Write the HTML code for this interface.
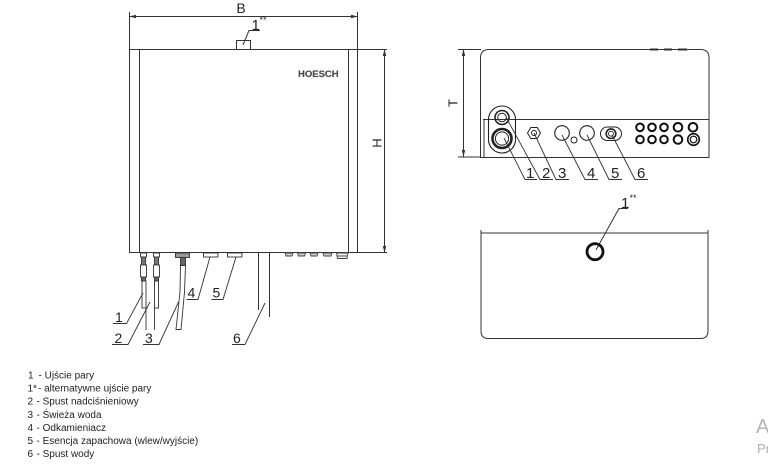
<!DOCTYPE html>
<html><head><meta charset="utf-8">
<style>
html,body{margin:0;padding:0;background:#fff;}
svg{display:block;}
text{font-family:"Liberation Sans",Arial,sans-serif;}
</style></head>
<body>
<svg width="768" height="466" viewBox="0 0 768 466" xmlns="http://www.w3.org/2000/svg">
<rect width="768" height="466" fill="#fff"/>

<!-- ========== FRONT VIEW ========== -->
<g stroke="#333" stroke-width="1" fill="none">
  <line x1="129.5" y1="12" x2="129.5" y2="253"/>
  <line x1="357.5" y1="12" x2="357.5" y2="253"/>
  <line x1="139.5" y1="49" x2="139.5" y2="253"/>
  <line x1="348.5" y1="49" x2="348.5" y2="253"/>
  <line x1="129" y1="49.5" x2="387" y2="49.5"/>
  <line x1="129" y1="252.5" x2="387" y2="252.5"/>
  <line x1="129" y1="16.5" x2="358" y2="16.5"/>
  <line x1="384.5" y1="49" x2="384.5" y2="253"/>
  <rect x="236.5" y="40.5" width="14" height="9"/>
  <polyline points="243,45 249,30.5 260,30.5"/>
</g>
<g fill="#333">
  <polygon points="129,16.5 136,14.8 136,18.2"/>
  <polygon points="358,16.5 351,14.8 351,18.2"/>
  <polygon points="384.5,49 382.8,56 386.2,56"/>
  <polygon points="384.5,253 382.8,246 386.2,246"/>
</g>
<text x="241" y="13" font-size="14" text-anchor="middle" fill="#222">B</text>
<text x="251.5" y="30" font-size="15" fill="#222">1</text>
<text x="259.5" y="23" font-size="9" fill="#222">**</text>
<text x="377" y="143" font-size="13" text-anchor="middle" fill="#222" transform="rotate(-90 377 143)" dy="4.5">H</text>
<text x="298" y="77" font-size="9.5" font-weight="bold" fill="#444" stroke="#777" stroke-width="0.3">HOESCH</text>

<g stroke="#333" stroke-width="0.9" fill="#fff">
  <rect x="140.5" y="253" width="6" height="4"/>
  <rect x="141.5" y="257" width="4" height="8" fill="#777"/>
  <rect x="140.5" y="265" width="6" height="12"/>
  <rect x="141.5" y="277" width="4" height="4" fill="#666"/>
  <rect x="142" y="281" width="4" height="27"/>
  <line x1="146" y1="308" x2="146" y2="330"/>

  <rect x="153.5" y="253" width="6" height="4"/>
  <rect x="154.5" y="257" width="4" height="8" fill="#777"/>
  <rect x="153.5" y="265" width="6" height="12"/>
  <rect x="154.5" y="277" width="4" height="4" fill="#666"/>
  <rect x="154.5" y="281" width="4" height="27"/>
  <line x1="154.5" y1="308" x2="154.5" y2="330"/>

  <rect x="175.5" y="253" width="14" height="4.5" fill="#999"/>
  <rect x="180.5" y="257.5" width="5" height="8" fill="#666"/>
  <path d="M180.5,265.5 L185.5,265.5 L184.5,292 L181,329.5 L176,329.5 L180,292 Z"/>

  <rect x="203.5" y="253" width="14.5" height="4"/>
  <rect x="227.5" y="253" width="14.5" height="4"/>
</g>
<g stroke="#333" stroke-width="1" fill="none">
  <line x1="258.5" y1="253" x2="258.5" y2="310"/>
  <line x1="269.5" y1="253" x2="269.5" y2="317"/>
</g>
<g stroke="#444" stroke-width="0.9" fill="#ccc">
  <path d="M285,253 L293,253 L292,256 L286,256 Z"/>
  <path d="M297.5,253 L305.5,253 L304.5,256 L298.5,256 Z"/>
  <path d="M310,253 L318,253 L317,256 L311,256 Z"/>
  <path d="M323,253 L332,253 L331,256 L324,256 Z"/>
  <path d="M336.5,253 L348,253 L347,258.5 L337.5,258.5 Z" fill="#eee"/>
  <line x1="337" y1="256" x2="347.5" y2="256"/>
</g>

<g stroke="#333" stroke-width="0.9" fill="none">
  <polyline points="113,323.5 126.5,323.5 143,293"/>
  <polyline points="112,344.5 128,344.5 150,302"/>
  <polyline points="143,344.5 159,344.5 178.5,302"/>
  <polyline points="186.5,299.5 198,299.5 210,257"/>
  <polyline points="211.5,299.5 223,299.5 236,257"/>
  <polyline points="232,344.5 245,344.5 265,303"/>
</g>
<g font-size="14" fill="#222">
  <text x="115" y="322">1</text>
  <text x="114.5" y="343">2</text>
  <text x="145" y="343">3</text>
  <text x="187.5" y="297.5">4</text>
  <text x="212.5" y="297.5">5</text>
  <text x="233" y="343">6</text>
</g>

<!-- ========== TOP VIEW ========== -->
<g stroke="#333" stroke-width="1" fill="none">
  <path d="M480.5,157.5 L480.5,58 Q480.5,49.5 489,49.5 L700.5,49.5 Q709,49.5 709,58 L709,157.5 Z"/>
  <line x1="458" y1="49.5" x2="481" y2="49.5"/>
  <line x1="458" y1="157" x2="481" y2="157"/>
  <line x1="463.5" y1="49" x2="463.5" y2="157"/>
  <line x1="483" y1="119.5" x2="709" y2="119.5"/>
  <line x1="484" y1="119.5" x2="484" y2="157"/>
</g>
<g stroke="#333" stroke-width="2">
  <line x1="650" y1="49.5" x2="658" y2="49.5"/>
  <line x1="664" y1="49.5" x2="672" y2="49.5"/>
  <line x1="678" y1="49.5" x2="687" y2="49.5"/>
</g>
<g fill="#333">
  <polygon points="463.5,49 461.8,56 465.2,56"/>
  <polygon points="463.5,157 461.8,150 465.2,150"/>
</g>
<text x="453" y="103" font-size="13" text-anchor="middle" fill="#222" transform="rotate(-90 453 103)" dy="4.5">T</text>

<g stroke="#222" fill="none">
  <rect x="488.5" y="106" width="27" height="47" rx="13.5" stroke-width="1.1"/>
  <circle cx="502" cy="117.5" r="7" stroke-width="1.6"/>
  <circle cx="502" cy="117.5" r="4.3" stroke-width="1"/>
  <circle cx="502" cy="138.5" r="9.5" stroke-width="2.6"/>
  <circle cx="502" cy="138.5" r="6.6" stroke-width="1"/>
  <polygon points="527.5,133 530.8,127.5 537.2,127.5 540.5,133 537.2,138.5 530.8,138.5" stroke-width="1"/>
  <circle cx="534" cy="133" r="2.5" stroke-width="1"/>
  <circle cx="562" cy="133" r="7.3" stroke-width="1.1"/>
  <circle cx="574" cy="140" r="3" stroke-width="1"/>
  <circle cx="587" cy="133" r="7.3" stroke-width="1.1"/>
  <rect x="600.5" y="127" width="21" height="13.5" rx="6.75" stroke-width="1"/>
  <circle cx="611" cy="133.7" r="4.8" stroke-width="1.6"/>
  <circle cx="611" cy="133.7" r="2.5" stroke-width="0.8"/>
</g>
<g stroke="#111" stroke-width="2" fill="#fff">
  <circle cx="640" cy="127.3" r="3.8"/>
  <circle cx="652" cy="127.3" r="3.8"/>
  <circle cx="664" cy="127.3" r="3.8"/>
  <circle cx="678" cy="127.3" r="4.3"/>
  <circle cx="693" cy="127.3" r="4.3"/>
  <circle cx="640" cy="139.5" r="3.8"/>
  <circle cx="652" cy="139.5" r="3.8"/>
  <circle cx="664" cy="139.5" r="3.8"/>
  <circle cx="678" cy="139.5" r="4.3"/>
  <circle cx="693.5" cy="139.5" r="5.8" stroke-width="1.6"/>
  <circle cx="693.5" cy="139.5" r="3.3" stroke-width="1.2"/>
</g>

<g stroke="#333" stroke-width="0.9" fill="none">
  <polyline points="537,179.5 525,179.5 504,138"/>
  <polyline points="553,179.5 540,179.5 506.5,118"/>
  <polyline points="569,179.5 556,179.5 534,133"/>
  <polyline points="598,179.5 585,179.5 562,135"/>
  <polyline points="622,179.5 609,179.5 587,135"/>
  <polyline points="648,179.5 635,179.5 612,135"/>
</g>
<g font-size="15" fill="#222">
  <text x="526" y="178">1</text>
  <text x="542" y="178">2</text>
  <text x="558" y="178">3</text>
  <text x="587" y="178">4</text>
  <text x="611" y="178">5</text>
  <text x="637" y="178">6</text>
</g>

<!-- ========== BOTTOM VIEW ========== -->
<g stroke="#333" stroke-width="1" fill="none">
  <line x1="481" y1="233" x2="708" y2="233"/>
  <path d="M481,230 L481,331 Q481,338.5 488.5,338.5 L700.5,338.5 Q708,338.5 708,331 L708,230"/>
  <polyline points="596,250 619,208.5 628,208.5"/>
</g>
<circle cx="595" cy="251.7" r="8" stroke="#111" stroke-width="2.8" fill="none"/>
<text x="621" y="208" font-size="15" fill="#222">1</text>
<text x="629.5" y="201" font-size="9" fill="#222">**</text>

<!-- ========== LEGEND ========== -->
<g font-size="10" fill="#222">
  <text x="28" y="378.5">1</text><text x="38.5" y="378.5">- Ujście pary</text>
  <text x="27.5" y="391.6">1*</text><text x="38" y="391.6">- alternatywne ujście pary</text>
  <text x="27.5" y="404.7">2</text><text x="36.5" y="404.7">- Spust nadciśnieniowy</text>
  <text x="27.5" y="417.8">3</text><text x="36.5" y="417.8">- Świeża woda</text>
  <text x="27.5" y="430.9">4</text><text x="36.5" y="430.9">- Odkamieniacz</text>
  <text x="27.5" y="444">5</text><text x="36.5" y="444">- Esencja zapachowa (wlew/wyjście)</text>
  <text x="27.5" y="457.1">6</text><text x="36.5" y="457.1">- Spust wody</text>
</g>

<text x="756" y="433" font-size="20" fill="#b4b4b4">A</text>
<text x="757" y="453" font-size="13" fill="#b0b0b0">Pr</text>
</svg>
</body></html>
